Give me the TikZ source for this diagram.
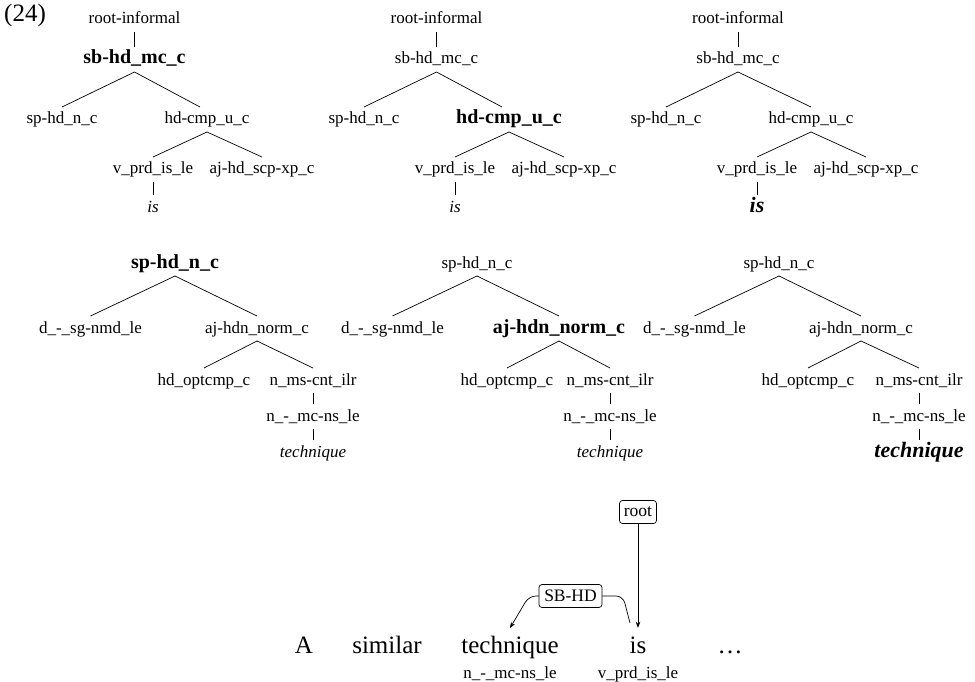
\documentclass[tikz,border=0pt]{standalone}
\usepackage{fontspec}
\setmainfont{Liberation Serif}
\usetikzlibrary{arrows.meta,calc}

\tikzset{
  lbl/.style={inner sep=0pt, outer sep=5pt, text height=12pt, text depth=3pt,
              anchor=base, font=\fontsize{17}{20}\selectfont},
  hl/.style={lbl, font=\fontsize{20}{24}\selectfont\bfseries},
  wrd/.style={lbl, font=\fontsize{17}{20}\selectfont\itshape},
  hlwrd/.style={lbl, font=\fontsize{22}{26}\selectfont\bfseries\itshape},
  branch/.style={line width=0.7pt},
  tok/.style={inner sep=0pt, text height=17pt, text depth=5pt, anchor=base,
              font=\fontsize{25}{30}\selectfont},
  tag/.style={inner sep=0pt, anchor=base, font=\fontsize{17}{20}\selectfont},
  deplabel/.style={draw, line width=0.7pt, rounded corners=3pt, fill=white,
                   inner sep=0pt, minimum height=23pt, font=\fontsize{17.5}{20}\selectfont},
  dep/.style={line width=0.7pt},
  deptip/.style={-{Stealth[length=6pt,width=4.5pt]}}
}

\begin{document}
\begin{tikzpicture}[x=1pt,y=-1pt]
\useasboundingbox (0,0) rectangle (975,682);

\node[anchor=base west, inner sep=0pt, font=\fontsize{25}{30}\selectfont] (exnum) at (4,22) {(24)};

% ---------- first derivation, three views ----------
\node[lbl] (a-root) at (134.5,24) {root-informal};
\node[hl]  (a-s)    at (134.5,64) {sb-hd\_mc\_c};
\node[lbl] (a-sp)   at (62,124) {sp-hd\_n\_c};
\node[lbl] (a-hc)   at (207,124) {hd-cmp\_u\_c};
\node[lbl] (a-v)    at (153,174) {v\_prd\_is\_le};
\node[lbl] (a-aj)   at (262,174) {aj-hd\_scp-xp\_c};
\node[wrd] (a-w)    at (153,212) {is};
\draw[branch] (a-root.south) -- (a-s.north);
\draw[branch] (a-s.south) -- (a-sp.north);
\draw[branch] (a-s.south) -- ($(a-hc.north)+(-7,0)$);
\draw[branch] (a-hc.south) -- (a-v.north);
\draw[branch] (a-hc.south) -- (a-aj.north);
\draw[branch] (a-v.south) -- (a-w.north);

\node[lbl] (b-root) at (436.5,24) {root-informal};
\node[lbl] (b-s)    at (436.5,64) {sb-hd\_mc\_c};
\node[lbl] (b-sp)   at (364,124) {sp-hd\_n\_c};
\node[hl]  (b-hc)   at (509,124) {hd-cmp\_u\_c};
\node[lbl] (b-v)    at (455,174) {v\_prd\_is\_le};
\node[lbl] (b-aj)   at (564,174) {aj-hd\_scp-xp\_c};
\node[wrd] (b-w)    at (455,212) {is};
\draw[branch] (b-root.south) -- (b-s.north);
\draw[branch] (b-s.south) -- (b-sp.north);
\draw[branch] (b-s.south) -- ($(b-hc.north)+(-7,0)$);
\draw[branch] (b-hc.south) -- (b-v.north);
\draw[branch] (b-hc.south) -- (b-aj.north);
\draw[branch] (b-v.south) -- (b-w.north);

\node[lbl]   (c-root) at (738,24) {root-informal};
\node[lbl]   (c-s)    at (738,64) {sb-hd\_mc\_c};
\node[lbl]   (c-sp)   at (666,124) {sp-hd\_n\_c};
\node[lbl]   (c-hc)   at (811,124) {hd-cmp\_u\_c};
\node[lbl]   (c-v)    at (757,174) {v\_prd\_is\_le};
\node[lbl]   (c-aj)   at (866,174) {aj-hd\_scp-xp\_c};
\node[hlwrd] (c-w)    at (757,212) {is};
\draw[branch] (c-root.south) -- (c-s.north);
\draw[branch] (c-s.south) -- (c-sp.north);
\draw[branch] (c-s.south) -- (c-hc.north);
\draw[branch] (c-hc.south) -- (c-v.north);
\draw[branch] (c-hc.south) -- (c-aj.north);
\draw[branch] (c-v.south) -- (c-w.north);

% ---------- second derivation, three views ----------
\node[hl]  (d-sp) at (175,268) {sp-hd\_n\_c};
\node[lbl] (d-d)  at (90.5,333) {d\_-\_sg-nmd\_le};
\node[lbl] (d-aj) at (257,333) {aj-hdn\_norm\_c};
\node[lbl] (d-ho) at (204,385) {hd\_optcmp\_c};
\node[lbl] (d-ms) at (313,385) {n\_ms-cnt\_ilr};
\node[lbl] (d-le) at (313,421) {n\_-\_mc-ns\_le};
\node[wrd] (d-w)  at (313,457) {technique};
\draw[branch] (d-sp.south) -- (d-d.north);
\draw[branch] (d-sp.south) -- (d-aj.north);
\draw[branch] (d-aj.south) -- (d-ho.north);
\draw[branch] (d-aj.south) -- (d-ms.north);
\draw[branch] (d-ms.south) -- (d-le.north);
\draw[branch] (d-le.south) -- (d-w.north);

\node[lbl] (e-sp) at (477,268) {sp-hd\_n\_c};
\node[lbl] (e-d)  at (392.5,333) {d\_-\_sg-nmd\_le};
\node[hl]  (e-aj) at (559,333) {aj-hdn\_norm\_c};
\node[lbl] (e-ho) at (507,385) {hd\_optcmp\_c};
\node[lbl] (e-ms) at (610,385) {n\_ms-cnt\_ilr};
\node[lbl] (e-le) at (610,421) {n\_-\_mc-ns\_le};
\node[wrd] (e-w)  at (610,457) {technique};
\draw[branch] (e-sp.south) -- (e-d.north);
\draw[branch] (e-sp.south) -- (e-aj.north);
\draw[branch] (e-aj.south) -- (e-ho.north);
\draw[branch] (e-aj.south) -- (e-ms.north);
\draw[branch] (e-ms.south) -- (e-le.north);
\draw[branch] (e-le.south) -- (e-w.north);

\node[lbl]   (f-sp) at (779,268) {sp-hd\_n\_c};
\node[lbl]   (f-d)  at (694.5,333) {d\_-\_sg-nmd\_le};
\node[lbl]   (f-aj) at (861,333) {aj-hdn\_norm\_c};
\node[lbl]   (f-ho) at (808,385) {hd\_optcmp\_c};
\node[lbl]   (f-ms) at (919,385) {n\_ms-cnt\_ilr};
\node[lbl]   (f-le) at (919,421) {n\_-\_mc-ns\_le};
\node[hlwrd] (f-w)  at (919,457) {technique};
\draw[branch] (f-sp.south) -- (f-d.north);
\draw[branch] (f-sp.south) -- (f-aj.north);
\draw[branch] (f-aj.south) -- (f-ho.north);
\draw[branch] (f-aj.south) -- (f-ms.north);
\draw[branch] (f-ms.south) -- (f-le.north);
\draw[branch] (f-le.south) -- (f-w.north);

% ---------- dependency view ----------
\node[tok] (w1) at (304,653) {A};
\node[tok] (w2) at (387,653) {similar};
\node[tok] (w3) at (510,653) {technique};
\node[tok] (w4) at (638,653) {is};
\node[tok] (w5) at (730,653) {…};
\node[tag] (t3) at (510,678) {n\_-\_mc-ns\_le};
\node[tag] (t4) at (638,678) {v\_prd\_is\_le};

\node[deplabel, minimum width=37pt] (rootlbl) at (638,512) {root};
\draw[dep, deptip, shorten >=8pt] (rootlbl.south) -- (w4.north);

\coordinate (sbfrom) at (630,623);
\coordinate (sbto) at (510,628);
\draw[dep, deptip, rounded corners=7pt] (sbfrom) -- (623,596) -- (529,596) -- (sbto);
\node[deplabel, minimum width=63pt] (sbhd) at (570.5,596) {SB-HD};

\end{tikzpicture}
\end{document}
